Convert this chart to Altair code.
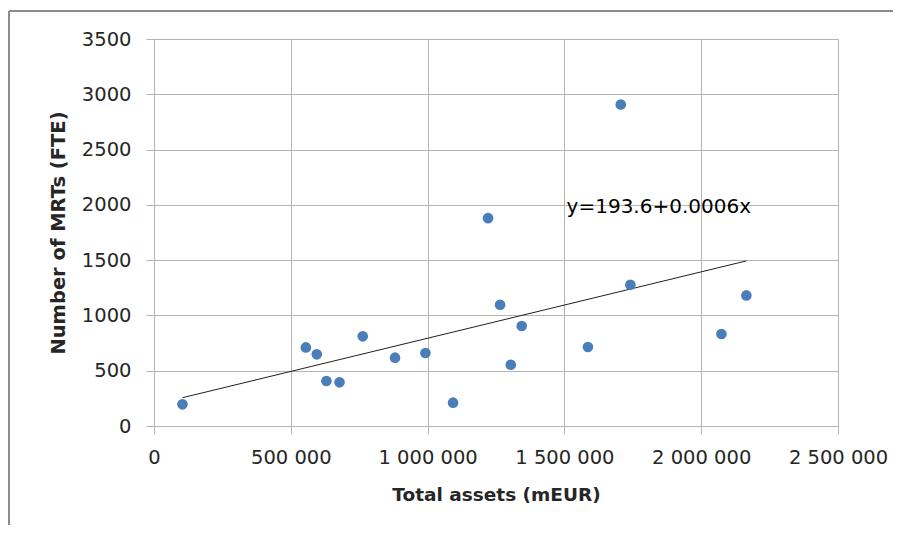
import altair as alt
import pandas as pd

# Data
total_assets = [104000, 555000, 595000, 630000, 678000, 763000, 881000, 992000,
                1093000, 1221000, 1265000, 1304000, 1344000, 1586000, 1706000,
                1741000, 2074000, 2165000]
mrts_fte = [196, 711, 648, 407, 395, 811, 618, 660,
            211, 1880, 1097, 554, 904, 714, 2908,
            1277, 832, 1181]

trend_x = [104000, 2165000]
trend_y = [256, 1493]

equation_label = ["y=193.6+0.0006x"]
equation_x = [1508000]
equation_y = [1980]

x_ticks = [0, 500000, 1000000, 1500000, 2000000, 2500000]
y_ticks = [0, 500, 1000, 1500, 2000, 2500, 3000, 3500]

pts = pd.DataFrame({"assets": total_assets, "mrts": mrts_fte})
trend = pd.DataFrame({"assets": trend_x, "mrts": trend_y})
eq = pd.DataFrame({"assets": equation_x, "mrts": equation_y, "label": equation_label})

W, H = 684, 387
GRID = "#b4b4b4"
TXT = "#262626"
FONT = "DejaVu Sans"

xscale = alt.Scale(domain=[0, 2500000], nice=False, zero=True)
yscale = alt.Scale(domain=[0, 3500], nice=False)

label_expr = "replace(replace(format(datum.value, ','), ',', ' '), ',', ' ')"

x_enc = alt.X(
    "assets:Q", scale=xscale,
    axis=alt.Axis(
        title="Total assets (mEUR)", values=x_ticks, labelExpr=label_expr,
        grid=True, gridColor=GRID, domainColor=GRID, tickColor=GRID,
        tickSize=8, labelPadding=14, labelFont=FONT, labelFontSize=19.5,
        labelColor=TXT, titleFont=FONT, titleFontSize=18.5, titleFontWeight="bold",
        titleColor=TXT, titleX=W / 2, titleY=68, titleBaseline="middle",
        labelFlush=False, labelOverlap=False,
    ),
)
y_enc = alt.Y(
    "mrts:Q", scale=yscale,
    axis=alt.Axis(
        title="Number of MRTs (FTE)", values=y_ticks, format="d",
        grid=True, gridColor=GRID, domainColor=GRID, tickColor=GRID,
        tickSize=8, labelPadding=15, labelFont=FONT, labelFontSize=19.5,
        labelColor=TXT, titleFont=FONT, titleFontSize=19.5, titleFontWeight="bold",
        titleColor=TXT, titleX=-96, titleY=H / 2, titleBaseline="middle",
        titleAngle=270, labelFlush=False, labelOverlap=False,
    ),
)

points = alt.Chart(pts).mark_circle(size=113, color="#4a7ebb", opacity=1).encode(
    x=x_enc, y=y_enc
)

line = alt.Chart(trend).mark_line(color="#1f1f1f", strokeWidth=1).encode(
    x=alt.X("assets:Q", scale=xscale), y=alt.Y("mrts:Q", scale=yscale)
)

text = alt.Chart(eq).mark_text(
    align="left", baseline="middle", font=FONT, fontSize=20, color="#000000"
).encode(
    x=alt.X("assets:Q", scale=xscale), y=alt.Y("mrts:Q", scale=yscale),
    text="label:N",
)

# outer frame (decoration)
frame_top = alt.Chart(pts).mark_rule(color="#8c8c8c", strokeWidth=2).encode(
    x=alt.value(-145), x2=alt.value(800), y=alt.value(-28)
)
frame_left = alt.Chart(pts).mark_rule(color="#8c8c8c", strokeWidth=2).encode(
    x=alt.value(-145), y=alt.value(-28), y2=alt.value(560)
)

chart = alt.layer(frame_top, frame_left, line, points, text).properties(
    width=W, height=H,
    autosize=alt.AutoSizeParams(type="none"),
    padding={"left": 146, "top": 31, "right": 55, "bottom": 99},
).configure_view(stroke=GRID, strokeWidth=1).configure(background="white")

chart.save("out.html", embed_options={"renderer": "svg", "actions": False})
